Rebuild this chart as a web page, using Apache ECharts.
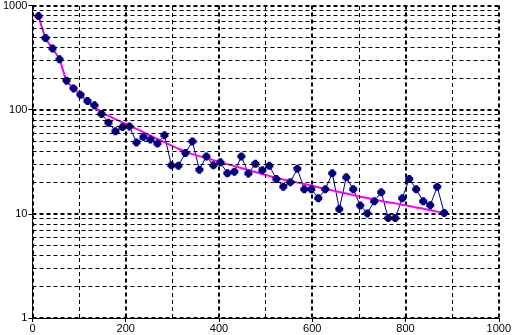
<!DOCTYPE html>
<html>
<head>
<meta charset="utf-8">
<script src="https://cdn.jsdelivr.net/npm/echarts@6/dist/echarts.min.js"></script>
<style>
html,body{margin:0;padding:0;background:#fff;}
#chart{width:514px;height:335px;}
</style>
</head>
<body>
<div id="chart"></div>
<script>
const xValues = [13,28,43,58,73,88,103,118,133,148,163,178,193,208,223,238,253,268,283,298,313,328,343,358,373,388,403,418,433,448,463,478,493,508,523,538,553,568,583,598,613,628,643,658,673,688,703,718,733,748,763,778,793,808,823,838,853,868,883];
const observed = [791,487,387,304,190,160,139,121,110,91,75,62,68,69,48.4,54.7,51.7,47.3,56.8,29.2,29,38.3,49.5,26.5,35.6,29.2,31.2,24.5,25.4,35.6,24.4,30.2,26.2,28.9,21.6,18.2,20.1,27.1,17.2,17.2,14.1,17.2,24.5,11.1,22.4,17.2,12.0,10.1,13.2,16.1,9.1,9.1,14.1,21.6,17.2,13.2,12.1,18.2,10.2];
const fitted = [791,487,387,304,190,160,139,120,105,94,87,81,75.6,70.2,65.3,60.7,56.2,52.3,48.7,45.3,42.2,39.5,37.4,35.8,34.3,32.8,31.4,30.0,28.7,27.5,26.3,25.2,24.1,23.1,22.1,21.4,20.7,20.0,19.3,18.7,18.0,17.4,16.8,16.2,15.7,15.1,14.6,14.2,13.7,13.3,12.9,12.6,12.2,11.9,11.5,11.2,10.8,10.5,10.2];
const yMinorLines = [2,3,4,5,6,7,8,9,20,30,40,50,60,70,80,90,200,300,400,500,600,700,800,900];
const xMinorLines = [100,300,500,700,900];

const chart = echarts.init(document.getElementById('chart'), null, {renderer:'canvas'});
const font = {fontFamily:'"Liberation Sans", Arial, sans-serif', fontSize:11, color:'#000'};
const minorStyle = {color:'#000', width:1, type:[4,3]};
const markLines = [];
yMinorLines.forEach(v => markLines.push({yAxis:v}));
xMinorLines.forEach(v => markLines.push({xAxis:v}));
const obsData = xValues.map((x,i)=>[x, observed[i]]);

chart.setOption({
  animation:false,
  backgroundColor:'#fff',
  grid:{left:31, right:11, top:4, bottom:17, containLabel:false},
  xAxis:{
    type:'value', min:0, max:1000, interval:200,
    axisLine:{show:true, onZero:false, lineStyle:{color:'#000', width:1}},
    axisTick:{show:true, length:4, lineStyle:{color:'#000'}},
    axisLabel:Object.assign({margin:5, showMaxLabel:true, formatter:v=>String(v)}, font),
    splitLine:{show:true, lineStyle:{color:'#000', width:2, type:[4,3]}}
  },
  yAxis:{
    type:'log', logBase:10, min:1, max:1000,
    axisLine:{show:true, onZero:false, lineStyle:{color:'#000', width:1}},
    axisTick:{show:true, length:4, lineStyle:{color:'#000'}},
    axisLabel:Object.assign({margin:5, formatter:v=>String(Math.round(v))}, font),
    splitLine:{show:true, lineStyle:{color:'#000', width:2, type:[4,3]}}
  },
  series:[
    {
      type:'line', data:obsData, z:2, showSymbol:false,
      lineStyle:{color:'#000080', width:1},
      markLine:{silent:true, symbol:'none', label:{show:false}, lineStyle:minorStyle, animation:false, data:markLines}
    },
    {
      type:'line', data:xValues.map((x,i)=>[x, fitted[i]]),
      showSymbol:false, smooth:0.3, z:3,
      lineStyle:{color:'#ff00ff', width:2}
    },
    {
      type:'scatter', data:obsData, z:4,
      symbol:'path://M2,0H5V1H6V2H7V5H6V6H5V7H2V6H1V5H0V2H1V1H2Z', symbolSize:8,
      itemStyle:{color:'#000080', opacity:1}
    }
  ]
});
</script>
</body>
</html>
